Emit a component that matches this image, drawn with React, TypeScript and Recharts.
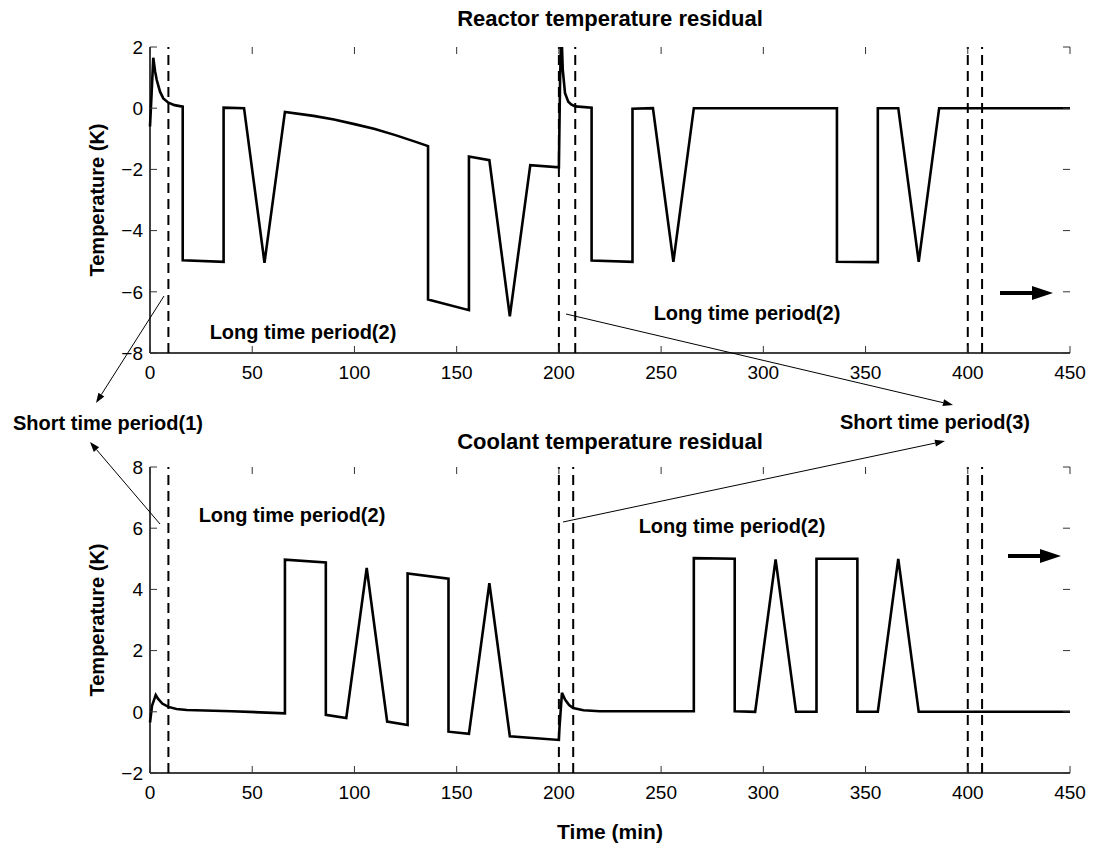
import React from 'react';
import { LineChart, Line, XAxis, YAxis, ReferenceLine } from 'recharts';

// reactor temperature residual (K) against time (min)
const reactorTime = [
  0, 0.8, 1.6, 2.5, 3.3, 4.9, 6.5, 9, 12, 16, 16, 36, 36, 46, 56, 66, 80, 90, 100, 110, 120, 130, 136,
  136, 156, 156, 166, 176, 186, 200, 200.6, 201.2, 201.9, 203, 204.6, 206, 208, 216, 216, 236, 236, 246,
  256, 266, 336, 336, 356, 356, 366, 376, 386, 450,
];
const reactorResidual = [
  -0.6, 0.5, 1.65, 1.2, 0.92, 0.54, 0.32, 0.18, 0.1, 0.05, -4.97, -5.02, 0.02, 0.0, -5.05, -0.12, -0.25,
  -0.37, -0.52, -0.68, -0.88, -1.1, -1.24, -6.25, -6.6, -1.58, -1.7, -6.8, -1.86, -1.93, 1.0, 2.6, 1.25,
  0.49, 0.21, 0.12, 0.06, 0.02, -4.98, -5.02, -0.02, 0.0, -5.02, 0.0, 0.0, -5.02, -5.03, 0.0, 0.0, -5.02,
  0.0, 0.0,
];

// coolant temperature residual (K) against time (min)
const coolantTime = [
  0, 1, 2.8, 4, 6, 9, 13, 18, 40, 66, 66, 86, 86, 96, 106, 116, 126, 126, 146, 146, 156, 166, 176, 200,
  200.3, 201.5, 203, 205, 207, 212, 220, 266, 266, 286, 286, 296, 306, 316, 326, 326, 346, 346, 356, 366,
  376, 450,
];
const coolantResidual = [
  -0.35, 0.2, 0.55, 0.42, 0.27, 0.16, 0.09, 0.06, 0.02, -0.05, 4.97, 4.88, -0.1, -0.2, 4.7, -0.32, -0.43,
  4.52, 4.35, -0.65, -0.72, 4.2, -0.8, -0.92, -0.5, 0.62, 0.4, 0.22, 0.12, 0.05, 0.02, 0.02, 5.02, 5.0,
  0.02, 0.0, 4.98, 0.0, 0.0, 5.0, 5.0, 0.0, 0.0, 5.0, 0.0, 0.0,
];

const timeTicks = [0, 50, 100, 150, 200, 250, 300, 350, 400, 450];
const reactorTicks = [-8, -6, -4, -2, 0, 2];
const coolantTicks = [-2, 0, 2, 4, 6, 8];
// dashed lines splitting the short and long time periods
const reactorMarks = [9, 200, 208, 400, 407];
const coolantMarks = [9, 200, 207, 400, 407];

const reactorData = reactorTime.map((t, i) => ({ t, v: reactorResidual[i] }));
const coolantData = coolantTime.map((t, i) => ({ t, v: coolantResidual[i] }));

const FONT = '"Liberation Sans", Arial, Helvetica, sans-serif';
const W = 1094;
const PLOT_L = 150;
const PLOT_R = 1070;
const PLOT_T = 47;
const PLOT_B = 353;

const fmt = (v: number) => (v < 0 ? `\u2212${-v}` : `${v}`);

const TimeTick = (props: any) => {
  const { x, payload } = props;
  return (
    <g>
      <line x1={x} x2={x} y1={PLOT_B} y2={PLOT_B - 7} stroke="#333" />
      <line x1={x} x2={x} y1={PLOT_T} y2={PLOT_T + 7} stroke="#333" />
      <text x={x} y={PLOT_B + 26} textAnchor="middle" fontSize={19} fontFamily={FONT} fill="#000">
        {fmt(payload.value)}
      </text>
    </g>
  );
};

const ValueTick = (props: any) => {
  const { y, payload } = props;
  return (
    <g>
      <line x1={PLOT_L} x2={PLOT_L + 7} y1={y} y2={y} stroke="#333" />
      <line x1={PLOT_R} x2={PLOT_R - 7} y1={y} y2={y} stroke="#333" />
      <text x={PLOT_L - 7} y={y} dy="0.36em" textAnchor="end" fontSize={19} fontFamily={FONT} fill="#000">
        {fmt(payload.value)}
      </text>
    </g>
  );
};

type PanelProps = {
  data: { t: number; v: number }[];
  yTicks: number[];
  marks: number[];
  height: number;
};

const Panel = ({ data, yTicks, marks, height }: PanelProps) => {
  const domain: [number, number] = [yTicks[0], yTicks[yTicks.length - 1]];
  return (
    <LineChart
      width={W}
      height={height}
      data={data}
      margin={{ top: PLOT_T, right: W - PLOT_R, bottom: 0, left: 0 }}
    >
      <XAxis
        dataKey="t"
        type="number"
        domain={[0, 450]}
        ticks={timeTicks}
        interval={0}
        height={height - PLOT_B}
        tick={TimeTick}
        tickLine={false}
        axisLine={{ stroke: '#000', strokeWidth: 1.5 }}
      />
      <XAxis
        xAxisId="top"
        orientation="top"
        type="number"
        domain={[0, 450]}
        height={0}
        tick={false}
        tickLine={false}
        axisLine={{ stroke: '#000', strokeWidth: 1.5 }}
      />
      <YAxis
        type="number"
        domain={domain}
        ticks={yTicks}
        interval={0}
        allowDataOverflow
        width={PLOT_L}
        tick={ValueTick}
        tickLine={false}
        axisLine={{ stroke: '#000', strokeWidth: 1.5 }}
      />
      <YAxis
        yAxisId="right"
        orientation="right"
        type="number"
        domain={domain}
        allowDataOverflow
        width={0}
        tick={false}
        tickLine={false}
        axisLine={{ stroke: '#000', strokeWidth: 1.5 }}
      />
      {marks.map((m) => (
        <ReferenceLine key={m} x={m} stroke="#000" strokeWidth={2} strokeDasharray="10 6" />
      ))}
      <Line
        type="linear"
        dataKey="v"
        stroke="#000"
        strokeWidth={2.6}
        strokeLinejoin="miter"
        dot={false}
        isAnimationActive={false}
      />
    </LineChart>
  );
};

const Arrow = ({ x1, y1, x2, y2, w = 1, head = 10, headW = 7 }: any) => {
  const a = Math.atan2(y2 - y1, x2 - x1);
  const bx = x2 - head * Math.cos(a);
  const by = y2 - head * Math.sin(a);
  const px = (-Math.sin(a) * headW) / 2;
  const py = (Math.cos(a) * headW) / 2;
  return (
    <g>
      <line x1={x1} y1={y1} x2={bx} y2={by} stroke="#000" strokeWidth={w} />
      <polygon points={`${x2},${y2} ${bx + px},${by + py} ${bx - px},${by - py}`} fill="#000" />
    </g>
  );
};

const bold = { fontFamily: FONT, fontWeight: 700, fill: '#000' } as const;

export default function App() {
  return (
    <div style={{ position: 'absolute', left: 0, top: 0, width: W, height: 849, background: '#fff' }}>
      <div style={{ position: 'absolute', left: 0, top: 0 }}>
        <Panel data={reactorData} yTicks={reactorTicks} marks={reactorMarks} height={400} />
      </div>
      <div style={{ position: 'absolute', left: 0, top: 420 }}>
        <Panel data={coolantData} yTicks={coolantTicks} marks={coolantMarks} height={429} />
      </div>
      <svg
        width={W}
        height={849}
        style={{ position: 'absolute', left: 0, top: 0, pointerEvents: 'none' }}
      >
        <text x={610} y={18} textAnchor="middle" dominantBaseline="central" fontSize={22} {...bold}>
          Reactor temperature residual
        </text>
        <text x={610} y={441} textAnchor="middle" dominantBaseline="central" fontSize={22} {...bold}>
          Coolant temperature residual
        </text>
        <text transform="translate(97,200) rotate(-90)" textAnchor="middle" dominantBaseline="central" fontSize={20} {...bold}>
          Temperature (K)
        </text>
        <text transform="translate(97,620) rotate(-90)" textAnchor="middle" dominantBaseline="central" fontSize={20} {...bold}>
          Temperature (K)
        </text>
        <text x={610} y={831} textAnchor="middle" dominantBaseline="central" fontSize={21} {...bold}>
          Time (min)
        </text>

        <text x={303} y={332} textAnchor="middle" dominantBaseline="central" fontSize={20} {...bold}>
          Long time period(2)
        </text>
        <text x={747} y={313} textAnchor="middle" dominantBaseline="central" fontSize={20} {...bold}>
          Long time period(2)
        </text>
        <text x={292} y={515} textAnchor="middle" dominantBaseline="central" fontSize={20} {...bold}>
          Long time period(2)
        </text>
        <text x={732} y={526} textAnchor="middle" dominantBaseline="central" fontSize={20} {...bold}>
          Long time period(2)
        </text>
        <text x={108} y={423} textAnchor="middle" dominantBaseline="central" fontSize={20} {...bold}>
          Short time period(1)
        </text>
        <text x={935} y={422} textAnchor="middle" dominantBaseline="central" fontSize={20} {...bold}>
          Short time period(3)
        </text>

        <Arrow x1={164} y1={296} x2={96} y2={403} />
        <Arrow x1={160} y1={524} x2={90} y2={442} />
        <Arrow x1={566} y1={314} x2={953} y2={405} />
        <Arrow x1={563} y1={522} x2={945} y2={441} />
        <Arrow x1={1000} y1={293} x2={1053} y2={293} w={4} head={21} headW={14} />
        <Arrow x1={1008} y1={556} x2={1061} y2={556} w={4} head={21} headW={14} />
      </svg>
    </div>
  );
}
